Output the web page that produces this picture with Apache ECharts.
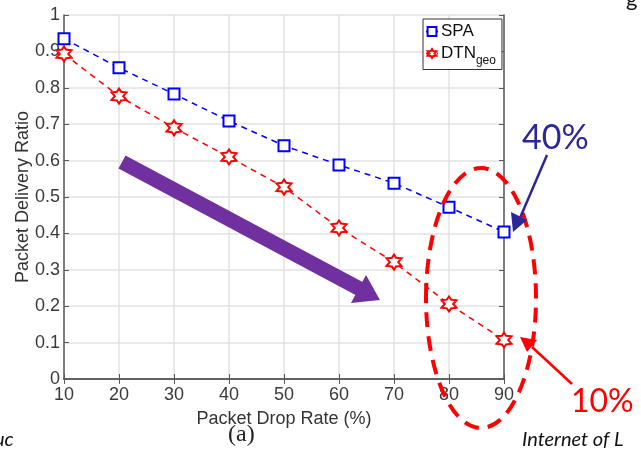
<!DOCTYPE html>
<html><head><meta charset="utf-8">
<script src="https://cdn.jsdelivr.net/npm/echarts@6/dist/echarts.min.js"></script>
<style>html,body{margin:0;padding:0;background:#fff}#c{width:641px;height:453px}</style>
</head><body><div id="c"></div>
<script>
const dropRates = [10, 20, 30, 40, 50, 60, 70, 80, 90];
const spaValues = [0.935, 0.855, 0.783, 0.709, 0.641, 0.588, 0.538, 0.472, 0.404];
const dtnValues = [0.893, 0.777, 0.690, 0.610, 0.527, 0.415, 0.321, 0.206, 0.107];
const seriesNames = ['SPA', 'DTNgeo'];

const hexagram = 'path://M50,0 L62,21 L93,25 L74,50 L93,75 L62,79 L50,100 L38,79 L7,75 L26,50 L7,25 L38,21 Z';

const chart = echarts.init(document.getElementById('c'));
const font = '"Liberation Sans", Arial, sans-serif';
const axisCol = '#5a5a5a';
chart.setOption({
  animation: false,
  grid: {left: 64, right: 137, top: 15, bottom: 74, containLabel: false, outerBoundsMode: 'none'},
  legend: {
    orient: 'vertical', left: 423, top: 19, padding: [4, 6, 3, 2],
    backgroundColor: '#fff', borderColor: '#333', borderWidth: 1, borderRadius: 0,
    itemWidth: 12, itemHeight: 11, itemGap: 5,
    data: seriesNames,
    formatter: n => n === 'DTNgeo' ? '{a|DTN}{b|geo}' : '{a|' + n + '}',
    textStyle: {
      fontFamily: font, color: '#111',
      rich: {a: {fontSize: 17, fontFamily: font, color: '#111', padding: [0, 0, 0, -2]},
             b: {fontSize: 12, fontFamily: font, color: '#111', padding: [14, 0, 0, 0]}}
    }
  },
  xAxis: [{
    type: 'value', min: 10, max: 90, interval: 10,
    name: 'Packet Drop Rate (%)', nameLocation: 'middle', nameGap: 31, nameMoveOverlap: false,
    nameTextStyle: {fontFamily: font, fontSize: 18, color: '#333'},
    axisLine: {lineStyle: {color: axisCol, width: 1.5}},
    axisTick: {inside: true, length: 5, lineStyle: {color: axisCol}},
    axisLabel: {fontFamily: font, fontSize: 18, color: '#3a3a3a', margin: 7},
    splitLine: {show: true, lineStyle: {color: '#e2e2e2', width: 1.5}}
  }, {
    type: 'value', position: 'top', min: 10, max: 90, interval: 10,
    axisLine: {lineStyle: {color: axisCol, width: 1.5}},
    axisTick: {inside: true, length: 5, lineStyle: {color: axisCol}},
    axisLabel: {show: false}, splitLine: {show: false}
  }],
  yAxis: [{
    type: 'value', min: 0, max: 1, interval: 0.1,
    name: 'Packet Delivery Ratio', nameLocation: 'middle', nameGap: 32, nameMoveOverlap: false,
    nameTextStyle: {fontFamily: font, fontSize: 18, color: '#333'},
    axisLine: {show: true, lineStyle: {color: axisCol, width: 1.5}},
    axisTick: {show: true, inside: true, length: 5, lineStyle: {color: axisCol}},
    axisLabel: {fontFamily: font, fontSize: 18, color: '#3a3a3a', margin: 4,
      formatter: v => String(Math.round(v * 10) / 10)},
    splitLine: {show: true, lineStyle: {color: '#e2e2e2', width: 1.5}}
  }, {
    type: 'value', position: 'right', min: 0, max: 1, interval: 0.1,
    axisLine: {show: true, lineStyle: {color: axisCol, width: 1.5}},
    axisTick: {show: true, inside: true, length: 5, lineStyle: {color: axisCol}},
    axisLabel: {show: false}, splitLine: {show: false}
  }],
  series: [{
    name: 'SPA', type: 'line',
    data: dropRates.map((x, i) => [x, spaValues[i]]),
    symbol: 'rect', symbolSize: 11,
    itemStyle: {color: '#fff', borderColor: '#0000ff', borderWidth: 2},
    lineStyle: {color: '#0000ff', type: [6, 5], width: 1.5},
    color: '#0000ff', z: 3
  }, {
    name: 'DTNgeo', type: 'line',
    data: dropRates.map((x, i) => [x, dtnValues[i]]),
    symbol: hexagram, symbolSize: 15,
    itemStyle: {color: '#fff', borderColor: '#ff0000', borderWidth: 2},
    lineStyle: {color: '#ff0000', type: [6, 5], width: 1.5},
    color: '#ff0000', z: 3
  }],
  graphic: [
    // purple trend arrow
    {type: 'line', shape: {x1: 122, y1: 162, x2: 360, y2: 289}, style: {stroke: '#7030a0', lineWidth: 15}, z: 10},
    {type: 'polygon', shape: {points: [[380, 300], [351, 303], [366, 275]]}, style: {fill: '#7030a0'}, z: 10},
    // red dashed ellipse
    {type: 'ellipse', shape: {cx: 481, cy: 298, rx: 55, ry: 130},
     style: {fill: null, stroke: '#ff0000', lineWidth: 4, lineDash: [15, 9]}, z: 10},
    // 40% annotation
    {type: 'text', left: 522, top: 121, style: {text: '40%', font: '34px "Lato", "Open Sans", sans-serif', fill: '#2b2699'}, z: 10},
    {type: 'line', shape: {x1: 547, y1: 155, x2: 520, y2: 218}, style: {stroke: '#2b2699', lineWidth: 2.5}, z: 10},
    {type: 'polygon', shape: {points: [[513, 232], [511, 212], [527, 220]]}, style: {fill: '#2b2699'}, z: 10},
    // 10% annotation
    {type: 'text', left: 571, top: 386, style: {text: '10%', font: '32px "Lato", "Open Sans", sans-serif', fill: '#ff0000'}, z: 10},
    {type: 'line', shape: {x1: 572, y1: 384, x2: 532, y2: 347}, style: {stroke: '#ff0000', lineWidth: 2.5}, z: 10},
    {type: 'polygon', shape: {points: [[520, 337], [537, 340], [527, 352]]}, style: {fill: '#ff0000'}, z: 10},
    // caption and slide fragments
    {type: 'text', left: 228, top: 423, style: {text: '(a)', font: '24px "Liberation Serif", "Times New Roman", serif', fill: '#222'}},
    {type: 'text', left: 522, top: 430, style: {text: 'Internet of L', font: 'italic 20px "Lato", "Open Sans", sans-serif', fill: '#111'}},
    {type: 'text', left: -6, top: 430, style: {text: 'uc', font: 'italic 20px "Lato", "Open Sans", sans-serif', fill: '#111'}},
    {type: 'text', left: 626, top: -12, style: {text: 'g', font: '22px "Lato", "Open Sans", sans-serif', fill: '#111'}}
  ]
});
</script></body></html>
